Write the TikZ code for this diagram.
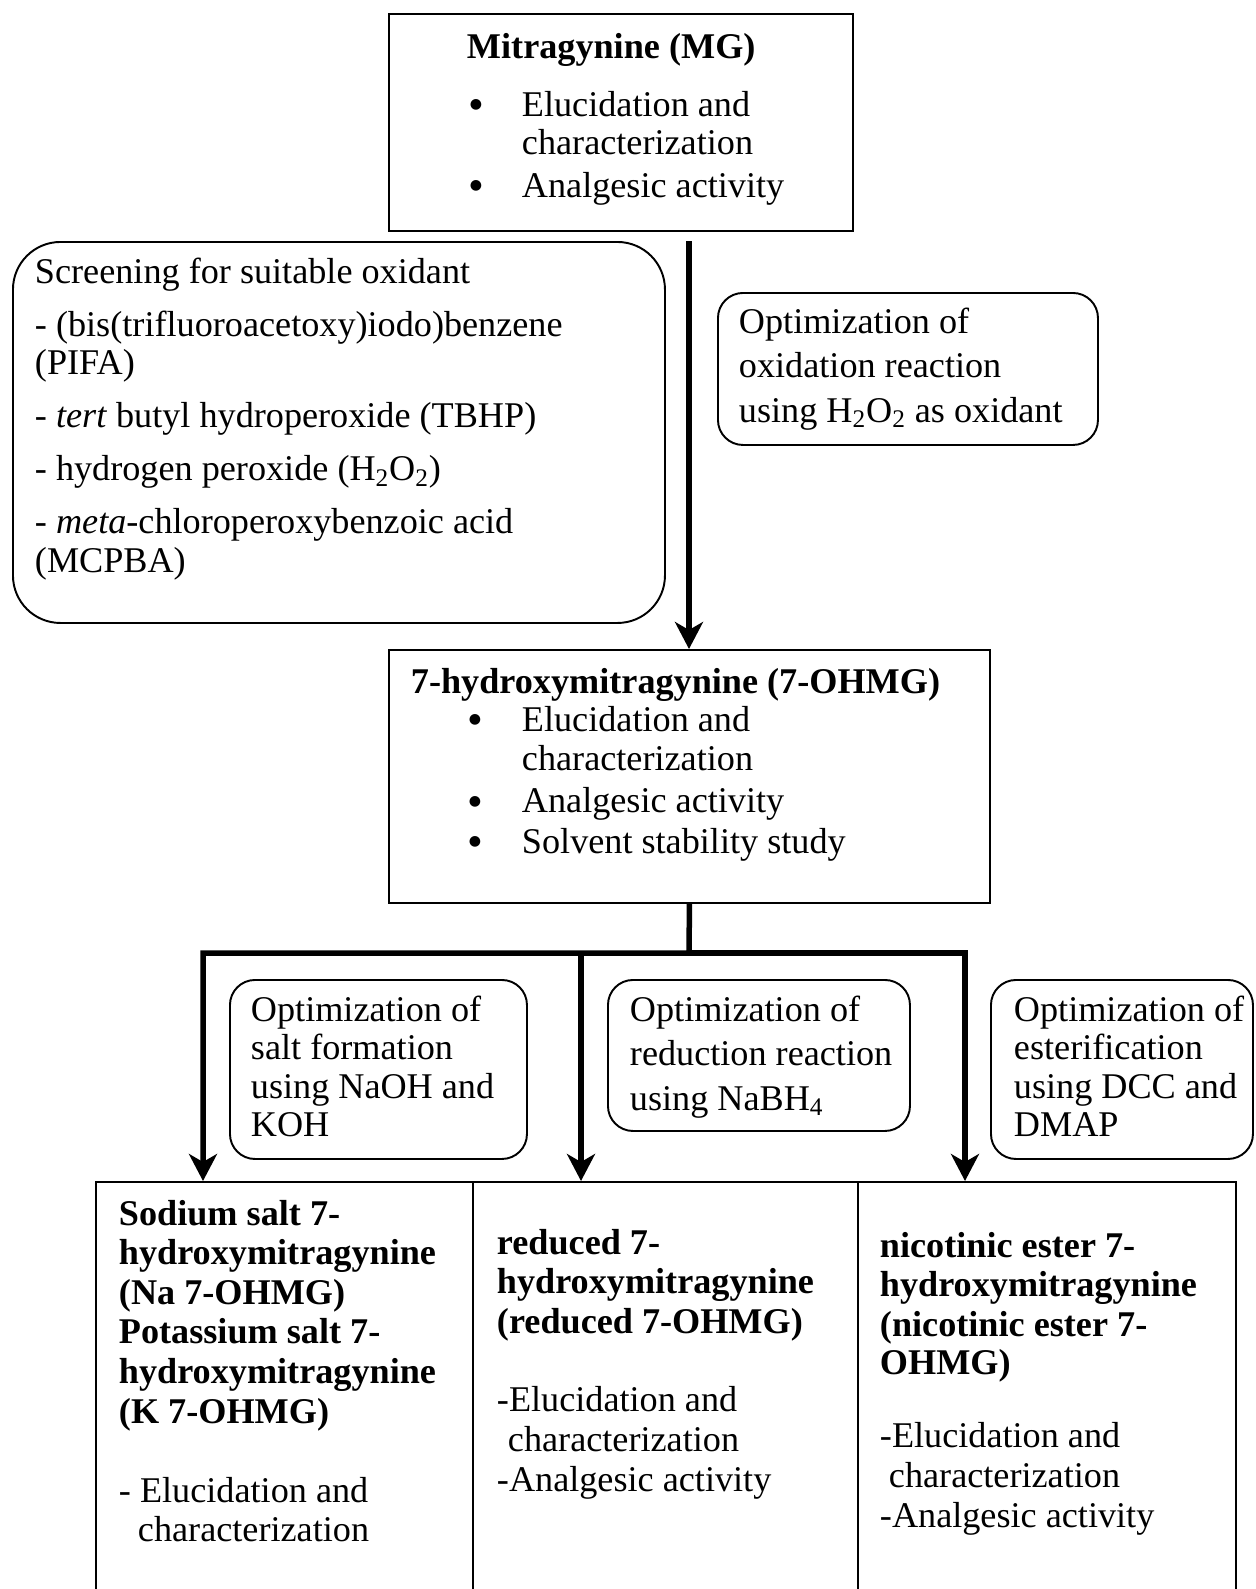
\documentclass[tikz,border=0pt]{standalone}
\usepackage{fontspec}
\setmainfont{Liberation Serif}
\newfontfamily\dotfont{DejaVu Sans}
\usetikzlibrary{arrows.meta}
\newlength{\pxu}
\setlength{\pxu}{0.02cm} % one pixel of the layout
% frame text: width, height, top gap, left gap, lines
\newcommand{\boxtext}[5]{%
  \parbox[t][#2\pxu][t]{#1\pxu}{\vspace*{#3\pxu}\hspace*{#4\pxu}%
  \begin{tabular}[t]{@{}l@{}}#5\end{tabular}}}
% bullet: bullet offset, text offset
\newcommand{\bul}[2]{\hspace*{#1\pxu}\makebox[\dimexpr#2\pxu-#1\pxu\relax][l]{\raisebox{4.4pt}{\dotfont\fontsize{8pt}{8pt}\selectfont ●}}}
\tikzset{
box/.style={draw, line width=1.1pt, inner sep=0pt, anchor=north west}, % square frame
rbox/.style={box, rounded corners=#1}, % rounded frame
rbox/.default=0.5cm,
flow/.style={line width=0.11cm, -{Stealth[length=0.54cm, width=0.56cm, inset=0.16cm]}}, % thick arrows
}

\begin{document}
\begin{tikzpicture}[x=0.02cm, y=-0.02cm, font=\fontsize{20.6pt}{22pt}\selectfont]
\useasboundingbox (0,0) rectangle (1256,1589);
\clip (0,0) rectangle (1256,1589);

% starting compound
\node[box] (mg) at (388,13) {\boxtext{464}{217}{17}{78}{%
  \textbf{Mitragynine (MG)}\\[19.4\pxu]
  \bul{3}{55}Elucidation and\\
  \hspace*{55\pxu}characterization\\[4\pxu]
  \bul{3}{55}Analgesic activity}};

% oxidation side notes
\node[rbox=0.95cm] (screen) at (12,241) {\boxtext{652}{381}{14}{22}{%
  Screening for suitable oxidant\\[14.5\pxu]
  - (bis(trifluoroacetoxy)iodo)benzene\\
  (PIFA)\\[14.5\pxu]
  - \textit{tert} butyl hydroperoxide (TBHP)\\[14\pxu]
  - hydrogen peroxide (H\textsubscript{2}O\textsubscript{2})\\[14.5\pxu]
  - \textit{meta}-chloroperoxybenzoic acid\\
  (MCPBA)}};
\node[rbox] (oxid) at (717,292) {\boxtext{380}{152}{13}{21}{%
  Optimization of\\[6\pxu]
  oxidation reaction\\[6\pxu]
  using H\textsubscript{2}O\textsubscript{2} as oxidant}};

% oxidised product
\node[box] (ohmg) at (388,649) {\boxtext{601}{253}{16}{22}{%
  \textbf{7-hydroxymitragynine (7-OHMG)}\\
  \bul{58}{111}Elucidation and\\
  \hspace*{111\pxu}characterization\\[4\pxu]
  \bul{58}{111}Analgesic activity\\[2\pxu]
  \bul{58}{111}Solvent stability study}};

% derivatisation notes
\node[rbox] (salt) at (229,979) {\boxtext{297}{179}{14}{21}{%
  Optimization of\\ salt formation\\ using NaOH and\\ KOH}};
\node[rbox] (reduc) at (607,979) {\boxtext{302}{151}{14}{22}{%
  Optimization of\\[6\pxu]
  reduction reaction\\[6\pxu]
  using NaBH\textsubscript{4}}};
\node[rbox] (ester) at (990,979) {\boxtext{262}{179}{14}{23}{%
  Optimization of\\ esterification\\ using DCC and\\ DMAP}};

% derivatives
\node[box] (sodium) at (95,1181) {\boxtext{377}{450}{16}{23}{%
  \textbf{Sodium salt 7-}\\[1\pxu]
  \textbf{hydroxymitragynine}\\[1\pxu]
  \textbf{(Na 7-OHMG)}\\[1\pxu]
  \textbf{Potassium salt 7-}\\[1\pxu]
  \textbf{hydroxymitragynine}\\[1\pxu]
  \textbf{(K 7-OHMG)}\\[41\pxu]
  - Elucidation and\\
  \hspace*{19\pxu}characterization}};
\node[box] (reduced) at (472,1181) {\boxtext{385}{450}{45}{24}{%
  \textbf{reduced 7-}\\[1\pxu]
  \textbf{hydroxymitragynine}\\[1\pxu]
  \textbf{(reduced 7-OHMG)}\\[40\pxu]
  -Elucidation and\\[1\pxu]
  \hspace*{11\pxu}characterization\\[1\pxu]
  -Analgesic activity}};
\node[box] (nicotinic) at (857,1181) {\boxtext{378}{450}{48}{22}{%
  \textbf{nicotinic ester 7-}\\[1\pxu]
  \textbf{hydroxymitragynine}\\[1\pxu]
  \textbf{(nicotinic ester 7-}\\
  \textbf{OHMG)}\\[34\pxu]
  -Elucidation and\\[1\pxu]
  \hspace*{9\pxu}characterization\\[2\pxu]
  -Analgesic activity}};

% arrows
\coordinate (mgout) at (689,241);
\draw[flow] (mgout) -- (mgout |- ohmg.north);
\coordinate (bus) at (689,953);
\coordinate (dropA) at (203,953);
\coordinate (dropB) at (581,953);
\coordinate (dropC) at (965,953);
\draw[flow] (ohmg.south) -- (bus) -| (dropA |- sodium.north);
\draw[flow] (bus) -| (dropC |- nicotinic.north);
\draw[flow] (dropB) -- (dropB |- reduced.north);
\end{tikzpicture}
\end{document}
